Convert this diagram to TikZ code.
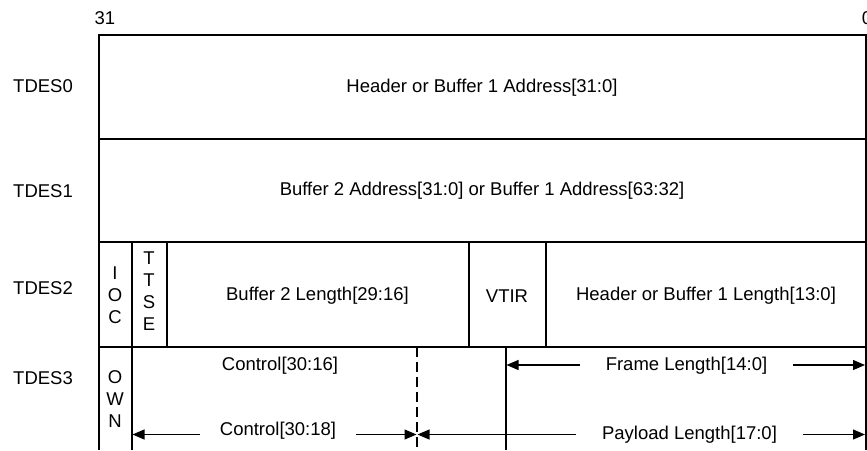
\documentclass[tikz,border=0pt]{standalone}
\usepackage{fontspec}
\setmainfont{Liberation Sans}
\usetikzlibrary{arrows.meta, calc}

\begin{document}
\begin{tikzpicture}[
    x=1pt, y=-1pt, % one unit per pixel, y grows downwards
    >={Triangle[length=12pt, width=10pt]}, % filled arrow tips
    every node/.style={font=\fontsize{18.5}{22}\selectfont},
    gridline/.style={line width=2pt},
    dashline/.style={line width=2pt, dash pattern=on 10pt off 5pt},
    dimline/.style={->, line width=1.1pt},
    dimtext/.style={inner ysep=0pt, inner xsep=20pt},
    field/.style={inner sep=0pt, align=center}
]
    \useasboundingbox (0,0) rectangle (867,450);

    % Outer frame corners
    \coordinate (TL) at (98.5,35);
    \coordinate (TR) at (866,35);
    \coordinate (BL) at (98.5,450);
    \coordinate (BR) at (866,450);

    % Row boundaries (left end)
    \coordinate (R1) at (98.5,139);
    \coordinate (R2) at (98.5,242);
    \coordinate (R3) at (98.5,347);

%    ############# TDES2 column dividers
    \coordinate (IOCr) at (131.5,242);
    \coordinate (TTSEr) at (166.5,242);
    \coordinate (VTIRl) at (469,242);
    \coordinate (VTIRr) at (545.5,242);

%    ############# TDES3 column dividers
    \coordinate (ctlSplit) at (417,347);
    \coordinate (frameSplit) at (505.5,347);

    % Draw frame and rows
    \draw[gridline] (BL) -- (TL) -- (TR) -- (BR);
    \draw[gridline] (R1) -- (R1 -| TR);
    \draw[gridline] (R2) -- (R2 -| TR);
    \draw[gridline] (R3) -- (R3 -| TR);

    % Draw columns
    \draw[gridline] (IOCr) -- (IOCr |- BL); % IOC and OWN share this line
    \draw[gridline] (TTSEr) -- (TTSEr |- R3);
    \draw[gridline] (VTIRl) -- (VTIRl |- R3);
    \draw[gridline] (VTIRr) -- (VTIRr |- R3);
    \draw[dashline] (ctlSplit) -- (ctlSplit |- BL);
    \draw[gridline] (frameSplit) -- (frameSplit |- BL);

    % Bit numbers
    \node (bit31) at (105,18) {31};
    \node (bit0) at (867,18) {0};

    % Row names
    \node[anchor=west, inner sep=0pt] (tdes0) at (13,86) {TDES0};
    \node[anchor=west, inner sep=0pt] (tdes1) at (13,191) {TDES1};
    \node[anchor=west, inner sep=0pt] (tdes2) at (13,288) {TDES2};
    \node[anchor=west, inner sep=0pt] (tdes3) at (13,378) {TDES3};

    % Fields
    \node[field] (buf1addr) at (482,88) {Header or Buffer 1 Address[31:0]};
    \node[field] (buf2addr) at (482,191) {Buffer 2 Address[31:0] or Buffer 1 Address[63:32]};
    \node[field] (ioc) at (115,295.5) {I\\O\\C};
    \node[field] (ttse) at (149,291) {T\\T\\S\\E};
    \node[field] (buf2len) at (317.5,296) {Buffer 2 Length[29:16]};
    \node[field] (vtir) at (507,296) {VTIR};
    \node[field] (buf1len) at (706,296) {Header or Buffer 1 Length[13:0]};
    \node[field] (own) at (115,399) {O\\W\\N};
    \node[field] (ctlA) at (280,366) {Control[30:16]};

%    ######## dimension arrows
    \node[dimtext, inner xsep=26pt] (frame) at (686.5,366) {Frame Length[14:0]};
    \coordinate (frameL) at (506.5,365);
    \coordinate (frameR) at (865,365);
    \draw[dimline] (frame.west |- frameL) -- (frameL);
    \draw[dimline] (frame.east |- frameR) -- (frameR);

    \node[dimtext] (ctlB) at (278,431) {Control[30:18]};
    \coordinate (ctlBL) at (132.5,434.5);
    \coordinate (ctlBR) at (416.5,434.5);
    \draw[dimline] (ctlB.west |- ctlBL) -- (ctlBL);
    \draw[dimline] (ctlB.east |- ctlBR) -- (ctlBR);

    \node[dimtext, inner xsep=26pt] (payload) at (689.5,435) {Payload Length[17:0]};
    \coordinate (payloadL) at (417.5,434.5);
    \coordinate (payloadR) at (865,434.5);
    \draw[dimline] (payload.west |- payloadL) -- (payloadL);
    \draw[dimline] (payload.east |- payloadR) -- (payloadR);

\end{tikzpicture}
\end{document}
